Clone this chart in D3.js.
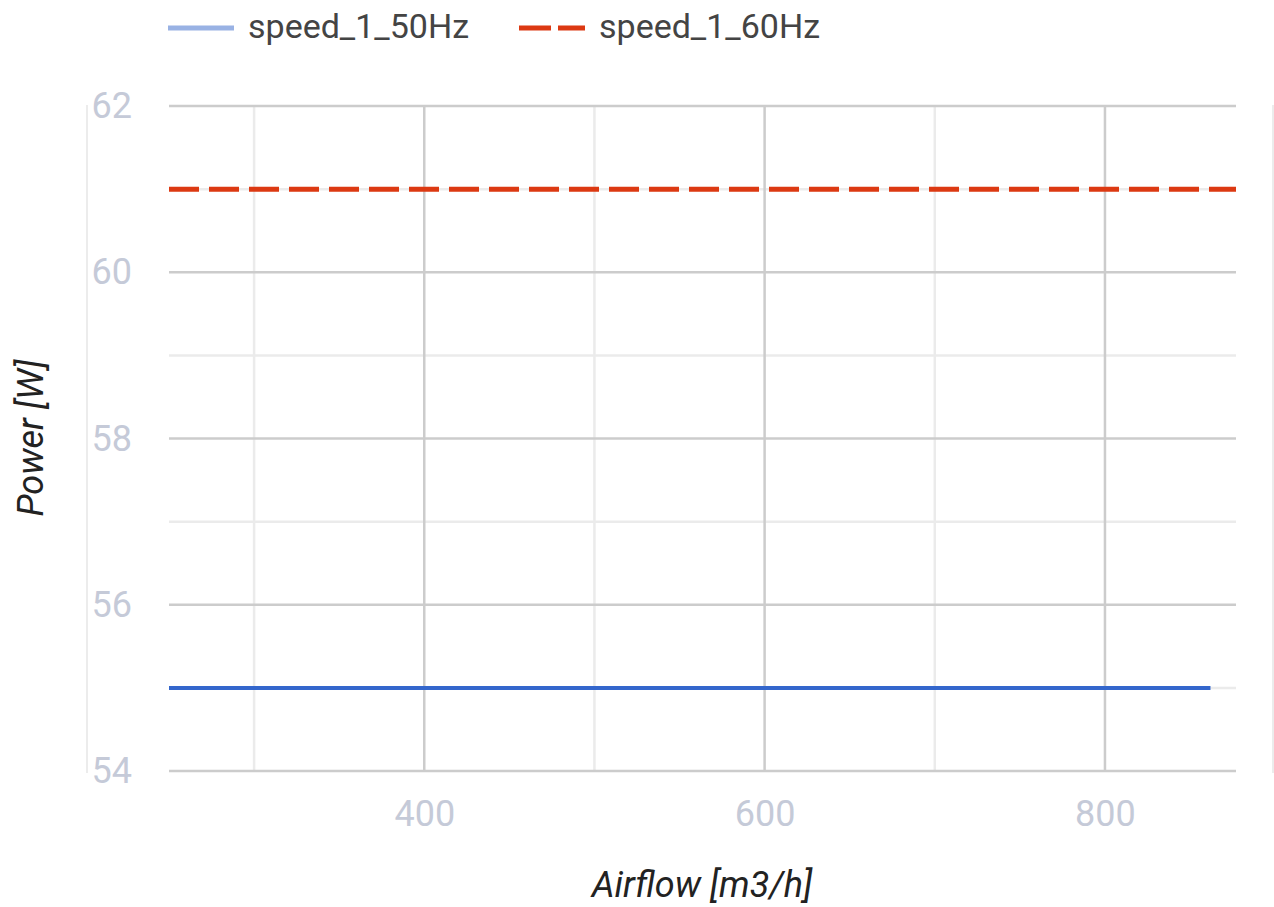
<!DOCTYPE html>
<html>
<head>
<meta charset="utf-8">
<script src="https://cdn.jsdelivr.net/npm/d3@7"></script>
<style>
  body { margin: 0; background: #fff; }
  svg { display: block; font-family: Roboto, Arial, sans-serif; }
</style>
</head>
<body>
<div id="chart-div"></div>
<script>
//Chart data
var seriesNames = ["speed_1_50Hz", "speed_1_60Hz"];
var airflow50 = [250, 560, 862];
var power50 = [55, 55, 55];
var airflow60 = [250, 560, 877];
var power60 = [61, 61, 61];

//Tick values
var xMajorTicks = [400, 600, 800];
var xMinorTicks = [300, 500, 700];
var yMajorTicks = [54, 56, 58, 60, 62];
var yMinorTicks = [55, 57, 59, 61];

//Canvas
var W = 1274, H = 907;
var margin = {top: 106, right: 38, bottom: 136, left: 169},
	w = W - margin.left - margin.right,
	h = H - margin.top - margin.bottom;

var xScale = d3.scaleLinear()
	.domain(d3.extent(airflow50.concat(airflow60)))
	.range([0, w]);

var yScale = d3.scaleLinear()
	.domain([d3.min(yMajorTicks), d3.max(yMajorTicks)])
	.range([h, 0]);

var svg = d3.select("#chart-div")
	.append("svg")
	.attr("width", W)
	.attr("height", H);

//faint frame lines at the picture edges
[87, 1273].forEach(function(x) {
	svg.append("line")
		.attr("x1", x).attr("x2", x)
		.attr("y1", 105).attr("y2", 773)
		.attr("stroke", "#ececec")
		.attr("stroke-width", 2);
});

var g = svg.append("g")
	.attr("transform", "translate(" + margin.left + "," + margin.top + ")");

g.append("clipPath").attr("id", "plot-clip")
	.append("rect").attr("width", w).attr("height", h + 4).attr("y", -2);

//Gridlines - minor first, major on top
function vGrid(ticks, color) {
	g.selectAll(null).data(ticks).enter().append("line")
		.attr("x1", function(d) { return xScale(d); })
		.attr("x2", function(d) { return xScale(d); })
		.attr("y1", 0).attr("y2", h)
		.attr("stroke", color).attr("stroke-width", 2.5);
}
function hGrid(ticks, color) {
	g.selectAll(null).data(ticks).enter().append("line")
		.attr("x1", 0).attr("x2", w)
		.attr("y1", function(d) { return yScale(d); })
		.attr("y2", function(d) { return yScale(d); })
		.attr("stroke", color).attr("stroke-width", 2.5);
}
vGrid(xMinorTicks, "#ebebeb");
hGrid(yMinorTicks, "#ebebeb");
vGrid(xMajorTicks, "#cccccc");
hGrid(yMajorTicks, "#cccccc");

//Lines
var line = d3.line()
	.x(function(d) { return xScale(d[0]); })
	.y(function(d) { return yScale(d[1]); });

g.append("path")
	.datum(d3.zip(airflow50, power50))
	.attr("d", line)
	.attr("clip-path", "url(#plot-clip)")
	.attr("fill", "none")
	.attr("stroke", "#3366cc")
	.attr("stroke-width", 4);

g.append("path")
	.datum(d3.zip(airflow60, power60))
	.attr("d", line)
	.attr("clip-path", "url(#plot-clip)")
	.attr("fill", "none")
	.attr("stroke", "#dc3912")
	.attr("stroke-width", 5)
	.attr("stroke-dasharray", "30,10");

//Axes (labels only, no domain or tick marks)
var yAxis = d3.axisLeft(yScale).tickValues(yMajorTicks).tickSize(0).tickPadding(37);
var xAxis = d3.axisBottom(xScale).tickValues(xMajorTicks).tickSize(0).tickPadding(29);

var yG = g.append("g").attr("class", "axis y-axis").call(yAxis);
var xG = g.append("g").attr("class", "axis x-axis")
	.attr("transform", "translate(0," + h + ")").call(xAxis);

[yG, xG].forEach(function(a) {
	a.select(".domain").remove();
	a.selectAll("text")
		.attr("fill", "#c5cad8")
		.style("font-size", "36px")
		.style("font-family", "Roboto, Arial, sans-serif");
});

//Axis titles
svg.append("text")
	.text("Airflow [m3/h]")
	.attr("x", 702).attr("y", 897)
	.attr("text-anchor", "middle")
	.attr("fill", "#222")
	.style("font-size", "36px")
	.style("font-style", "italic");

svg.append("text")
	.text("Power [W]")
	.attr("transform", "translate(43,438) rotate(-90)")
	.attr("text-anchor", "middle")
	.attr("fill", "#222")
	.style("font-size", "36px")
	.style("font-style", "italic");

//Legend
var legend = svg.append("g").attr("class", "legend");
legend.append("line")
	.attr("x1", 168).attr("x2", 234).attr("y1", 28).attr("y2", 28)
	.attr("stroke", "#99b2e4").attr("stroke-width", 5);
legend.append("text").text(seriesNames[0])
	.attr("x", 248).attr("y", 38)
	.attr("fill", "#444").style("font-size", "34px");

legend.append("line")
	.attr("x1", 519).attr("x2", 585).attr("y1", 28).attr("y2", 28)
	.attr("stroke", "#dc3912").attr("stroke-width", 5)
	.attr("stroke-dasharray", "32,7");
legend.append("text").text(seriesNames[1])
	.attr("x", 599).attr("y", 38)
	.attr("fill", "#444").style("font-size", "34px");
</script>
</body>
</html>
